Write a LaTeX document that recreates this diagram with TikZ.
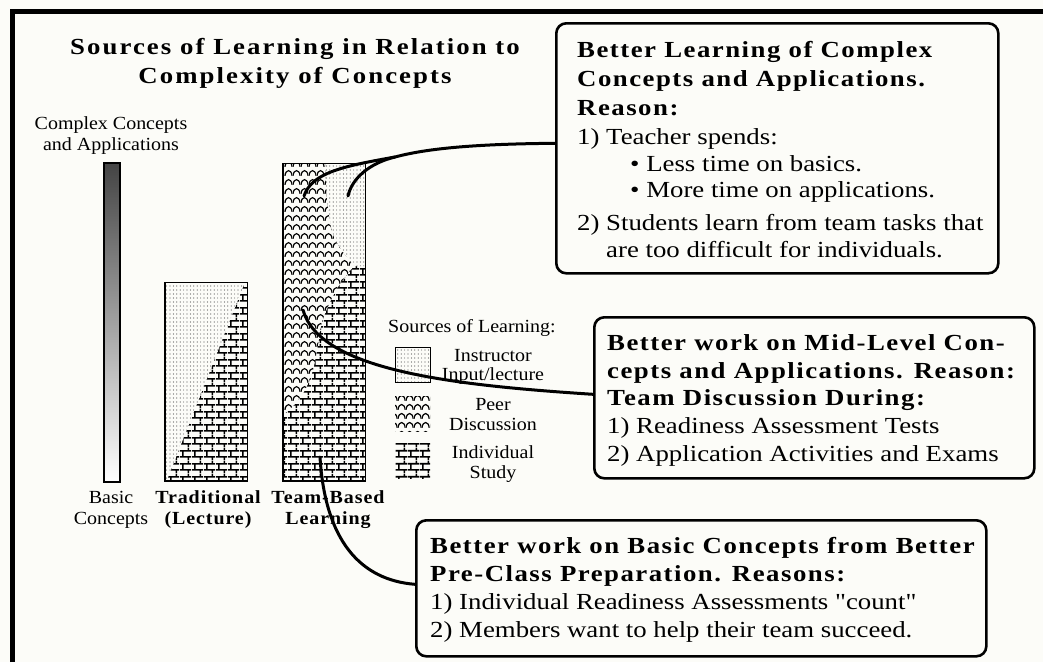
\documentclass[tikz,border=0pt]{standalone}
\usepackage{fontspec}
\setmainfont{Liberation Serif}[FakeStretch=1.165,Ligatures=TeXOff]
\newfontfamily\headfont{Liberation Serif}[FakeStretch=1.165,LetterSpace=6.5]
\newfontfamily\titlefont{Liberation Serif}[FakeStretch=1.165,LetterSpace=9]
\newfontfamily\smallfont{Liberation Serif}[FakeStretch=1.08]
\newfontfamily\barfont{Liberation Serif}[FakeStretch=1.08,LetterSpace=5]
\usetikzlibrary{patterns}

\definecolor{paper}{RGB}{252,252,248}
\definecolor{dotgray}{RGB}{90,90,90}
\definecolor{bardark}{RGB}{68,68,68}

\newcommand\boxhead[1]{{\headfont\bfseries #1}}

% brick wall for individual study
\pgfdeclarepatternformonly{brickwall}{\pgfpointorigin}{\pgfpoint{12pt}{12.6pt}}{\pgfpoint{12pt}{12.6pt}}{%
  \pgfsetlinewidth{1.6pt}%
  \pgfpathmoveto{\pgfpoint{0pt}{3.15pt}}\pgfpathlineto{\pgfpoint{12pt}{3.15pt}}%
  \pgfpathmoveto{\pgfpoint{0pt}{9.45pt}}\pgfpathlineto{\pgfpoint{12pt}{9.45pt}}%
  \pgfpathmoveto{\pgfpoint{3pt}{3.15pt}}\pgfpathlineto{\pgfpoint{3pt}{9.45pt}}%
  \pgfpathmoveto{\pgfpoint{9pt}{9.45pt}}\pgfpathlineto{\pgfpoint{9pt}{12.6pt}}%
  \pgfpathmoveto{\pgfpoint{9pt}{0pt}}\pgfpathlineto{\pgfpoint{9pt}{3.15pt}}%
  \pgfusepath{stroke}}

% rows of arches for peer discussion
\pgfdeclarepatternformonly{peerwaves}{\pgfpointorigin}{\pgfpoint{7.5pt}{9pt}}{\pgfpoint{7.5pt}{9pt}}{%
  \pgfsetlinewidth{1.25pt}%
  \pgfpathmoveto{\pgfpoint{0pt}{1.3pt}}%
  \pgfpathcurveto{\pgfpoint{0.7pt}{9pt}}{\pgfpoint{6.8pt}{9pt}}{\pgfpoint{7.5pt}{1.3pt}}%
  \pgfusepath{stroke}}

% fine dot screen for instructor input
\pgfdeclarepatternformonly{lecturedots}{\pgfpoint{-1pt}{-1pt}}{\pgfpoint{1pt}{1pt}}{\pgfpoint{3.4pt}{4pt}}{%
  \pgfpathcircle{\pgfpointorigin}{0.6pt}\pgfusepath{fill}}

\tikzset{
  boxframe/.style={draw, line width=2.6pt, rounded corners=10pt, fill=paper, inner sep=0pt},
  boxtext/.style={align=left, inner sep=0pt, anchor=west},
  conn/.style={line width=3pt, line cap=round},
  smalltext/.style={align=center, inner sep=0pt, font=\smallfont\fontsize{18.5}{20.5}\selectfont},
  barlabel/.style={align=center, inner sep=0pt, font=\barfont\bfseries\fontsize{18.5}{21}\selectfont},
  swatch/.style={minimum width=35pt, minimum height=35pt, inner sep=0pt},
}

\begin{document}
\begin{tikzpicture}[x=1pt,y=-1pt]
\useasboundingbox (0,0) rectangle (1043,662);
\fill[paper] (0,0) rectangle (1043,662);

% outer frame (top and left rules)
\draw[line width=4.5pt] (12.5,662) -- (12.5,11.7) -- (1043,11.7);

% title
\node[align=center, inner sep=0pt, font=\titlefont\bfseries\fontsize{23}{29}\selectfont] (title) at (295,63)
  {Sources of Learning in Relation to\\Complexity of Concepts};

% complexity scale
\node[smalltext] (lblcomplex) at (111,135.5) {Complex Concepts\\and Applications};
\shade[top color=bardark, bottom color=white] (104,163) rectangle (120,482);
\draw[line width=1.4pt] (104,163) rectangle (120,482);
\node[smalltext] (lblbasic) at (111,510) {Basic\\Concepts};

% traditional lecture bar
\fill[pattern=brickwall] (165,282) rectangle (247,481);
\path[fill=paper, postaction={pattern=lecturedots, pattern color=dotgray}]
  (165,282) -- (245,282) -- (167,480) -- (165,480) -- cycle;
\draw[line width=0.8pt] (165,282) rectangle (247,481);
\draw[line width=2.4pt] (165,282) -- (165,481) -- (247,481);
\node[barlabel] (lbltrad) at (208,510) {Traditional\\(Lecture)};

% team-based learning bar
\fill[pattern=brickwall] (283,163) rectangle (365,481);
\path[fill=paper, postaction={pattern=lecturedots, pattern color=dotgray}]
  (325,163) -- (365,163) -- (365,266) -- (354,266)
  -- plot[smooth] coordinates {(354,266) (340,248) (332,232) (327,200) (325,163)} -- cycle;
\path[fill=paper, postaction={pattern=peerwaves}]
  (283,163) -- (325,163)
  -- plot[smooth] coordinates {(325,163) (327,200) (332,232) (340,248) (354,266)}
  -- plot[smooth] coordinates {(354,266) (340,284) (331,300) (322,322) (318,345) (313,370) (305,390) (295,404) (283,415)}
  -- cycle;
\draw[line width=0.8pt] (283,163) rectangle (365,481);
\draw[line width=2.4pt] (283,163) -- (283,481) -- (365,481);
\node[barlabel] (lbltbl) at (328,510) {Team-Based\\Learning};

% legend
\node[smalltext, anchor=west] (legtitle) at (388,328) {Sources of Learning:};
\node[swatch, draw, line width=0.6pt, pattern=lecturedots, pattern color=dotgray] (sw1) at (412.5,364.5) {};
\node[swatch, pattern=peerwaves] (sw2) at (412.5,414) {};
\node[swatch, pattern=brickwall] (sw3) at (412.5,460.5) {};
\node[smalltext, font=\smallfont\fontsize{18.5}{19}\selectfont] (leg1) at (493,366.5) {Instructor\\Input/lecture};
\node[smalltext] (leg2) at (493,414.5) {Peer\\Discussion};
\node[smalltext, font=\smallfont\fontsize{18.5}{20}\selectfont] (leg3) at (493,464) {Individual\\Study};

% explanation boxes
\node[boxframe, minimum width=442pt, minimum height=250pt, anchor=north west] (b1) at (555,22) {};
\node[boxtext, font=\fontsize{23}{26.5}\selectfont] (t1) at ([xshift=22pt, yshift=-1.5pt]b1.west) {%
  \boxhead{Better Learning of Complex}\\[2.5pt]
  \boxhead{Concepts and Applications.}\\[2.5pt]
  \boxhead{Reason:}\\[2.5pt]
  1) Teacher spends:\\
  \hspace*{53pt}\textbullet\ Less time on basics.\\
  \hspace*{53pt}\textbullet\ More time on applications.\\[6.5pt]
  2) Students learn from team tasks that\\
  \hphantom{2) }are too difficult for individuals.};

\node[boxframe, minimum width=440pt, minimum height=161pt, anchor=north west] (b2) at (593,316) {};
\node[boxtext, font=\fontsize{23}{27.75}\selectfont] (t2) at ([xshift=14pt, yshift=-2.5pt]b2.west) {%
  \boxhead{Better work on Mid-Level Con-}\\
  \boxhead{cepts and Applications. Reason:}\\
  \boxhead{Team Discussion During:}\\
  1) Readiness Assessment Tests\\
  2) Application Activities and Exams};

\node[boxframe, minimum width=570pt, minimum height=136pt, anchor=north west] (b3) at (415,519) {};
\node[boxtext, font=\fontsize{23}{28}\selectfont] (t3) at ([xshift=15pt, yshift=-2pt]b3.west) {%
  \boxhead{Better work on Basic Concepts from Better}\\
  \boxhead{Pre-Class Preparation. Reasons:}\\
  1) Individual Readiness Assessments "count"\\
  2) Members want to help their team succeed.};

% connectors from the boxes into the bar regions
\coordinate (fork) at (395,157);
\coordinate (peerTop) at (304,196);
\coordinate (lectTop) at (348,196);
\coordinate (peerMid) at (303,310);
\coordinate (studyLow) at (320,457);
\draw[conn] ([yshift=5pt]b1.west) .. controls (470,144) and (425,149) .. (fork)
  .. controls (345,166) and (312,172) .. (peerTop);
\draw[conn] (fork) .. controls (370,163) and (352,178) .. (lectTop);
\draw[conn] ([yshift=3.5pt]b2.west) .. controls (450,385) and (320,370) .. (peerMid);
\draw[conn] ([yshift=4pt]b3.west) .. controls (360,580) and (325,540) .. (studyLow);
\end{tikzpicture}
\end{document}
